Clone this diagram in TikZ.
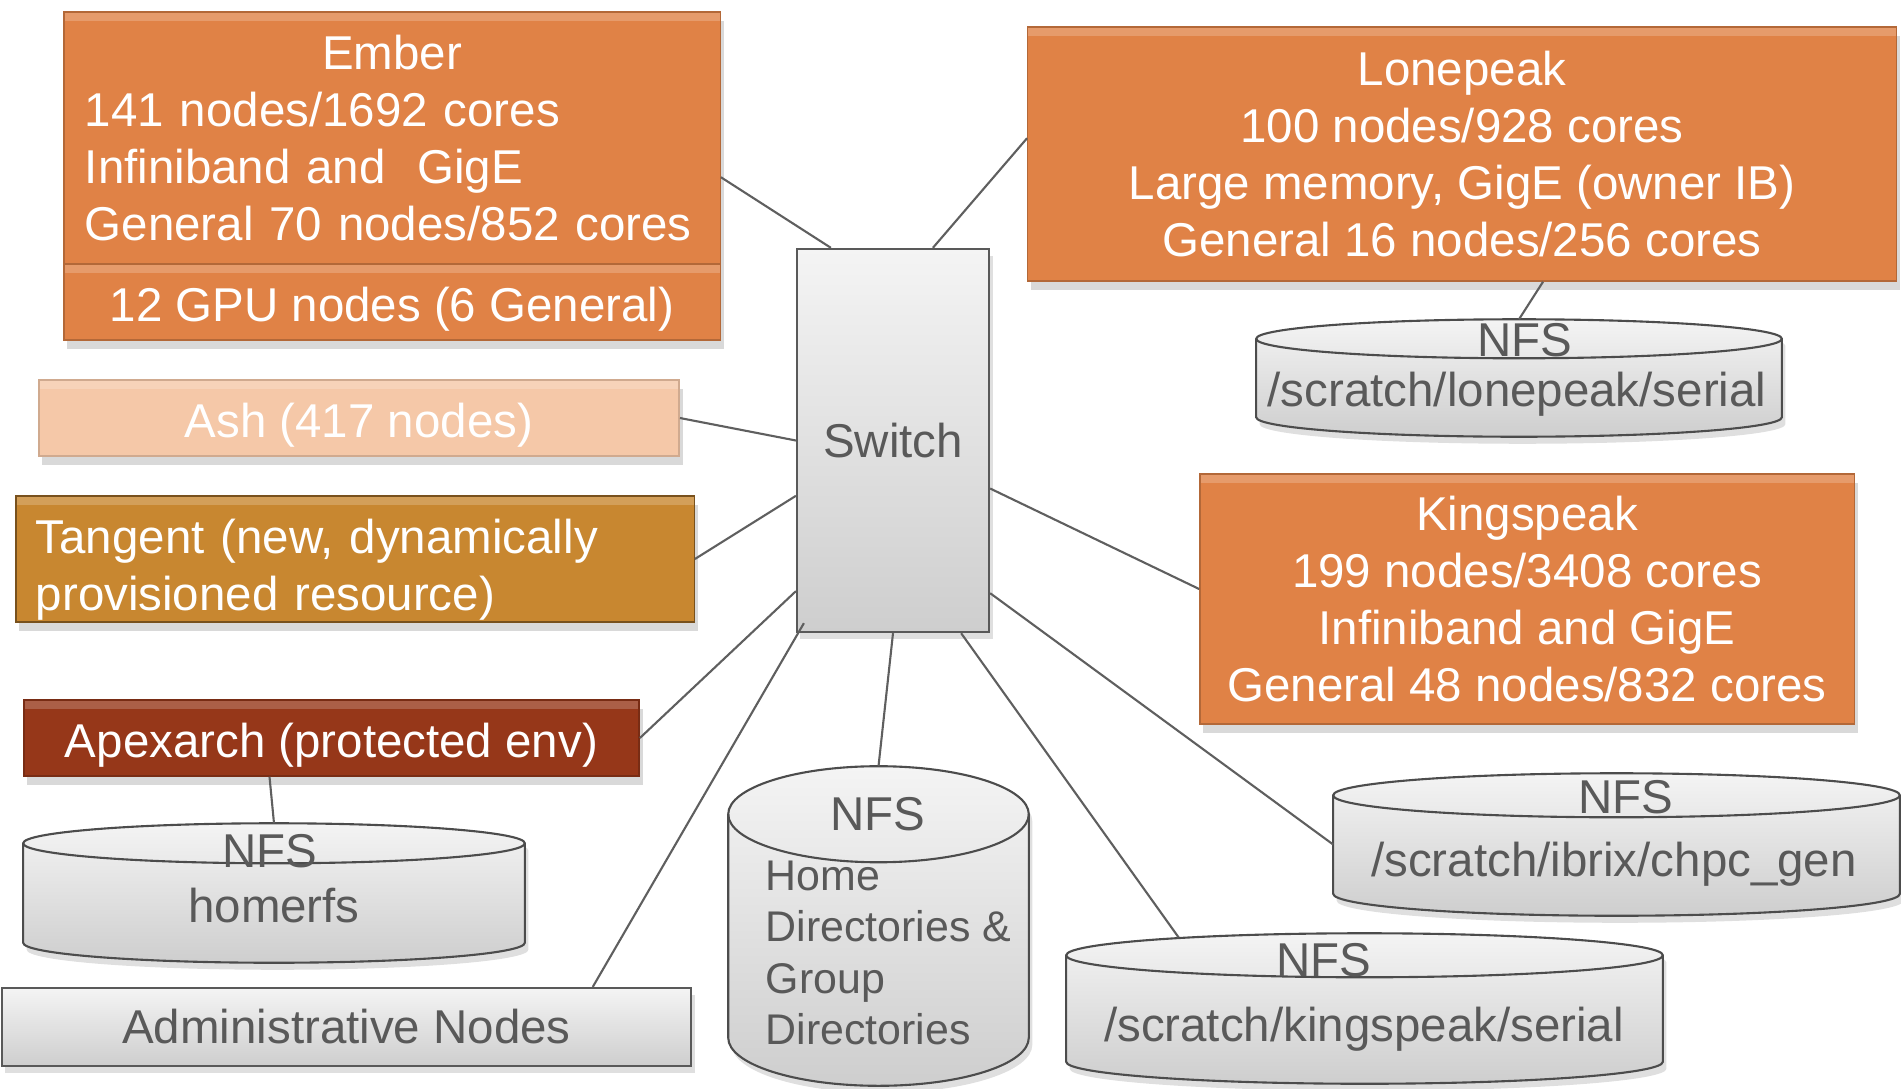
\documentclass[tikz,border=0pt]{standalone}
\usepackage{fontspec}
\setmainfont{Liberation Sans}
\usetikzlibrary{shadows, calc}
\definecolor{peakorange}{RGB}{224,130,70}
\definecolor{ashpeach}{RGB}{245,200,168}
\definecolor{tangentgold}{RGB}{200,135,48}
\definecolor{apexred}{RGB}{150,55,25}
\definecolor{textgray}{RGB}{89,89,89}
\definecolor{linegray}{RGB}{95,95,95}
\definecolor{boxlight}{RGB}{244,244,244}
\definecolor{boxdark}{RGB}{206,206,206}

\tikzset{
  txt/.style={font=\fontsize{13.5pt}{16.2pt}\selectfont},
  oneline/.style={text height=11pt, text depth=0pt},
  cluster/.style={txt, rectangle, fill=peakorange, draw=peakorange!80!black, text=white, inner sep=0pt,
    drop shadow={shadow xshift=1pt, shadow yshift=-2.5pt, opacity=0.3},
    path picture={\fill[white, opacity=0.2] (path picture bounding box.north west)
      rectangle ([yshift=-2.5pt]path picture bounding box.north east);}},
  graybox/.style={txt, rectangle, draw=textgray, text=textgray, top color=boxlight, bottom color=boxdark,
    inner sep=0pt, line width=0.6pt, drop shadow={shadow xshift=1pt, shadow yshift=-2pt, opacity=0.25}},
  diskspot/.style={rectangle, inner sep=0pt},
  diskfill/.style={top color=boxlight, bottom color=boxdark, draw=black!70, line width=0.6pt,
    drop shadow={shadow xshift=1pt, shadow yshift=-2pt, opacity=0.25}},
  diskline/.style={draw=black!70, line width=0.6pt},
  disklbl/.style={txt, text=textgray, inner sep=0pt},
  link/.style={draw=linegray, line width=0.6pt},
}

% cylinder over a named node: #1 node, #2 radius of the end caps
\newcommand{\drawdisk}[2]{%
  \path[diskfill] let \p1=(#1.north west), \p2=(#1.south east), \n1={0.5*(\x2-\x1)} in
    (\x1,\y1-#2) -- (\x1,\y2+#2) arc[start angle=180, end angle=360, x radius=\n1, y radius=#2]
    -- (\x2,\y1-#2) arc[start angle=0, end angle=180, x radius=\n1, y radius=#2] -- cycle;
  \path[diskline] let \p1=(#1.north west), \p2=(#1.south east), \n1={0.5*(\x2-\x1)} in
    (\x1,\y1-#2) arc[start angle=180, end angle=360, x radius=\n1, y radius=#2];
}

\begin{document}
\begin{tikzpicture}[x=0.01cm, y=-0.01cm]
  \useasboundingbox (0,0) rectangle (1901,1088);

  % clusters
  \node[cluster, minimum width=6.56cm, minimum height=2.52cm, text width=6.14cm, align=left] (ember) at (392,138)
    {{\centering Ember\par}141 nodes/1692 cores\\Infiniband and\ \ GigE\\General 70 nodes/852 cores};
  \node[cluster, oneline, minimum width=6.56cm, minimum height=0.76cm] (gpu) at (392,302) {12 GPU nodes (6 General)};
  \node[cluster, minimum width=8.68cm, minimum height=2.54cm, align=center] (lonepeak) at (1462,154)
    {Lonepeak\\100 nodes/928 cores\\Large memory, GigE (owner IB)\\General 16 nodes/256 cores};
  \node[cluster, minimum width=6.54cm, minimum height=2.50cm, align=center] (kingspeak) at (1527,599)
    {Kingspeak\\199 nodes/3408 cores\\Infiniband and GigE\\General 48 nodes/832 cores};
  \node[cluster, oneline, fill=ashpeach, draw=ashpeach!85!black, minimum width=6.40cm, minimum height=0.76cm]
    (ash) at (359,418) {Ash (417 nodes)};
  \node[cluster, fill=tangentgold, draw=tangentgold!60!black, minimum width=6.78cm, minimum height=1.26cm,
    text width=6.38cm, align=left] (tangent) at (355,559)
    {\rule{0pt}{15.7pt}Tangent (new, dynamically\\provisioned resource)};
  \node[cluster, oneline, fill=apexred, draw=apexred!80!black, minimum width=6.15cm, minimum height=0.76cm]
    (apex) at (331.5,738) {Apexarch (protected env)};

  % switch and admin
  \node[graybox, minimum width=1.92cm, minimum height=3.83cm] (switch) at (893,440.5) {Switch};
  \node[graybox, minimum width=6.89cm, minimum height=0.78cm] (admin) at (346.5,1027) {Administrative Nodes};

  % storage
  \node[diskspot, minimum width=5.24cm, minimum height=1.16cm] (nfslone) at (1519,378) {};
  \drawdisk{nfslone}{0.195cm}
  \node[disklbl] (lonetop) at (1525,340) {NFS};
  \node[disklbl] (lonepath) at (1517,394) {/scratch/lonepeak/serial};

  \node[diskspot, minimum width=5.00cm, minimum height=1.38cm] (homerfs) at (274,893) {};
  \drawdisk{homerfs}{0.2cm}
  \node[disklbl] (homertop) at (270,851) {NFS};
  \node[disklbl] (homerpath) at (274,906) {homerfs};

  \node[diskspot, minimum width=2.99cm, minimum height=3.18cm] (nfshome) at (878.5,926) {};
  \drawdisk{nfshome}{0.48cm}
  \node[disklbl] (hometop) at (878,814) {NFS};
  \node[disklbl, font=\fontsize{12.2pt}{14.6pt}\selectfont, align=left, anchor=west] (homepath) at (765,953)
    {Home\\Directories \&\\Group\\Directories};

  \node[diskspot, minimum width=5.65cm, minimum height=1.41cm] (nfsibrix) at (1616.5,844.5) {};
  \drawdisk{nfsibrix}{0.22cm}
  \node[disklbl] (ibrixtop) at (1626,797) {NFS};
  \node[disklbl] (ibrixpath) at (1614,864) {/scratch/ibrix/chpc\_gen};

  \node[diskspot, minimum width=5.95cm, minimum height=1.49cm] (nfsking) at (1364.5,1008.5) {};
  \drawdisk{nfsking}{0.22cm}
  \node[disklbl] (kingtop) at (1324,960) {NFS};
  \node[disklbl] (kingpath) at (1364,1029) {/scratch/kingspeak/serial};

  % links to the switch
  \draw[link] ($(ember.north east)+(0,166)$) -- ($(switch.north west)+(35,0)$);
  \draw[link] ($(lonepeak.north west)+(0,112)$) -- ($(switch.north west)+(137,0)$);
  \draw[link] (ash.east) -- (switch.west);
  \draw[link] (tangent.east) -- ($(switch.north west)+(0,248)$);
  \draw[link] (apex.east) -- ($(switch.south west)+(0,-42)$);
  \draw[link] ($(admin.north west)+(592,0)$) -- ($(switch.south west)+(8,-10)$);
  \draw[link] (nfshome.north) -- (switch.south);
  \draw[link] ($(nfsking.north)+(-186,4)$) -- ($(switch.south east)+(-29,0)$);
  \draw[link] (nfsibrix.west) -- ($(switch.south east)+(0,-40)$);
  \draw[link] ($(kingspeak.west)+(0,-10)$) -- ($(switch.east)+(0,48)$);

  % links to storage
  \draw[link] ($(apex.south)+(-62,0)$) -- (homerfs.north);
  \draw[link] ($(lonepeak.south)+(81,0)$) -- (nfslone.north);
\end{tikzpicture}
\end{document}
